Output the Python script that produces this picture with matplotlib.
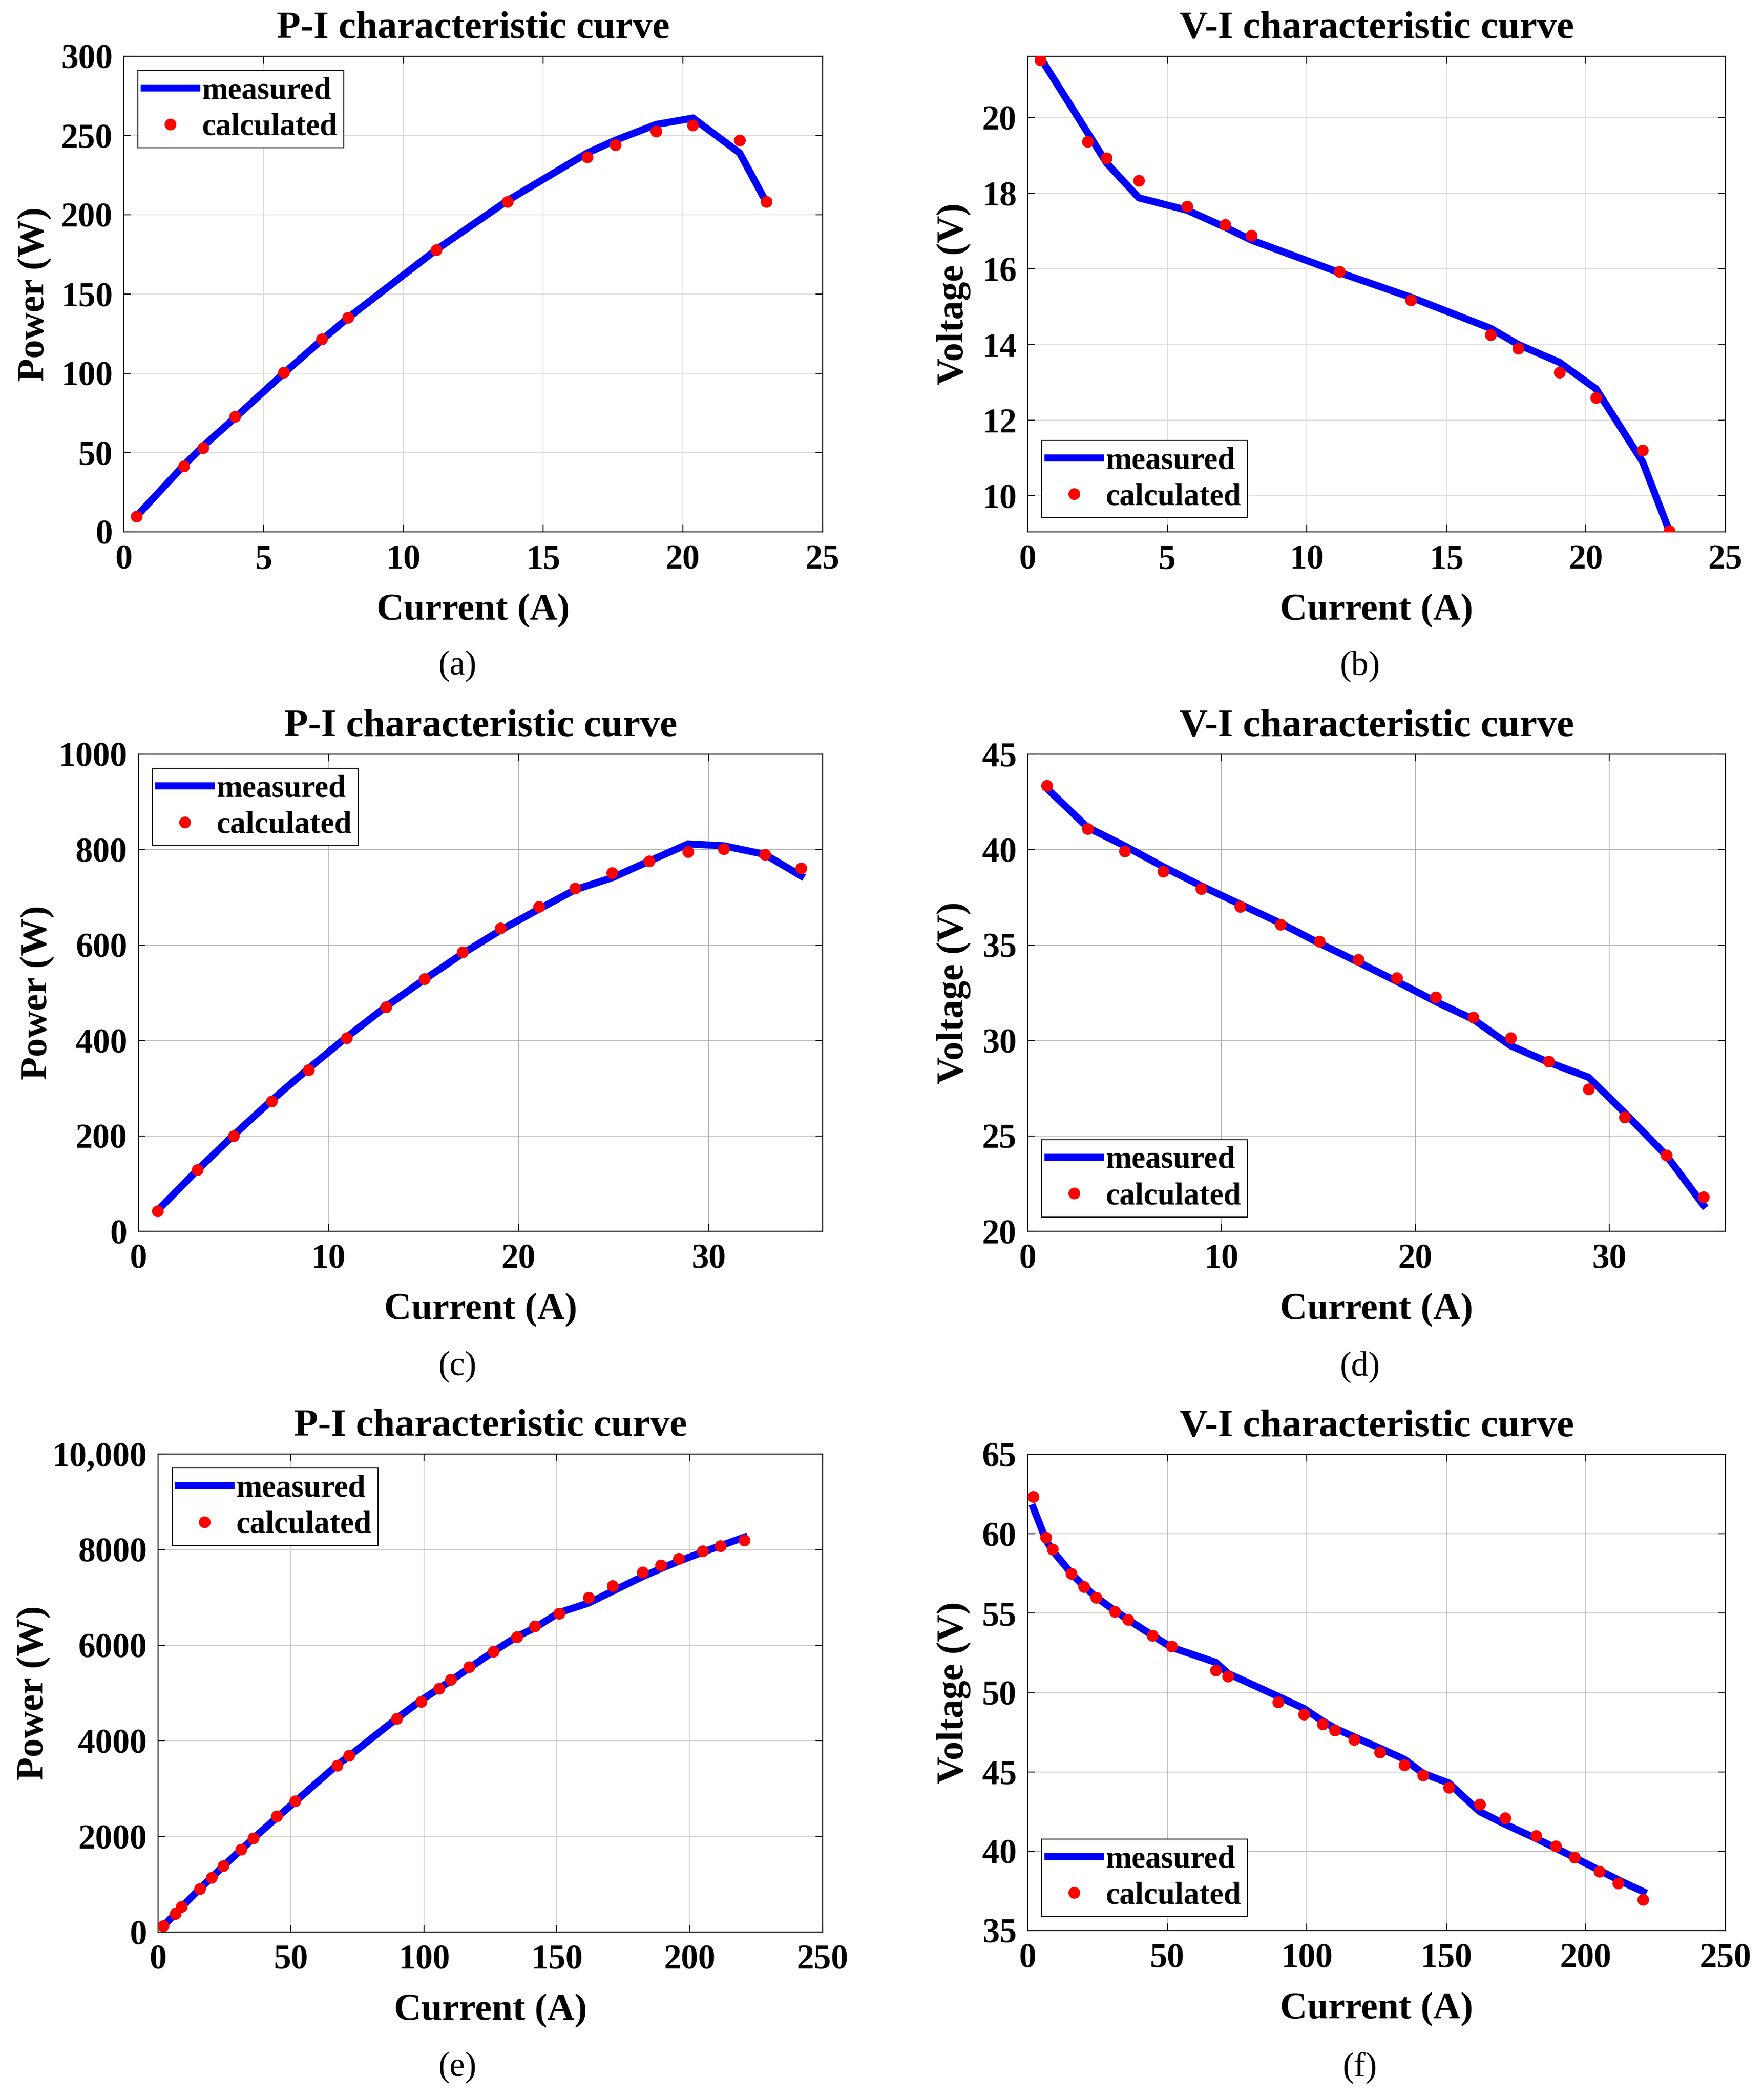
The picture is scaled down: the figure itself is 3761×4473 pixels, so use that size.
import matplotlib
matplotlib.use("Agg")
import matplotlib.pyplot as plt

# ---- data ----
# stack 1 (a, b)
current_1 = [0.46, 2.15, 2.83, 3.98, 5.72, 7.08, 8.02, 11.18, 13.73, 16.58, 17.58, 19.05, 20.36, 22.03, 22.98]
power_meas_1 = [10, 42, 54, 72, 100, 121, 135, 178, 209, 239, 247, 257, 261, 239, 208]
power_calc_1 = [9.8, 41.3, 53.1, 72.9, 100.6, 121.5, 135.2, 177.9, 208.4, 236.3, 244.1, 252.8, 256.4, 246.9, 208.4]
volt_meas_1 = [21.58, 19.6, 18.8, 17.88, 17.55, 17.1, 16.76, 15.9, 15.25, 14.43, 14.0, 13.53, 12.83, 10.9, 9.08]
volt_calc_1 = [21.52, 19.37, 18.93, 18.34, 17.65, 17.17, 16.88, 15.93, 15.18, 14.26, 13.90, 13.27, 12.59, 11.21, 9.08]

# stack 2 (c, d)
current_2 = [1.0, 3.1, 5.0, 7.0, 8.95, 10.96, 13.03, 15.05, 17.06, 19.05, 21.06, 22.98, 24.92, 26.88, 28.93, 30.8, 32.96, 34.86]
power_meas_2 = [43, 128, 201, 274, 341, 407, 471, 528, 582, 631, 675, 716, 741, 776, 812, 808, 790, 745]
power_calc_2 = [42, 129, 200, 272, 338, 405, 470, 529, 585, 635, 680, 719, 751, 776, 795, 801, 790, 761]
volt_meas_2 = [43.2, 41.16, 40.2, 39.1, 38.1, 37.14, 36.15, 35.09, 34.1, 33.09, 32.03, 31.11, 29.72, 28.85, 28.07, 26.2, 23.95, 21.37]
volt_calc_2 = [43.35, 41.09, 39.92, 38.86, 37.94, 37.0, 36.08, 35.18, 34.24, 33.28, 32.26, 31.21, 30.12, 28.90, 27.44, 25.98, 23.98, 21.79]

# stack 3 (e, f)
current_3 = [2.0, 6.6, 8.9, 15.7, 20.2, 24.6, 31.3, 35.9, 44.7, 51.5, 67.4, 71.8, 89.8, 98.9, 105.7, 110.1, 117.0,
             126.1, 134.9, 141.7, 150.8, 161.9, 171.0, 182.2, 189.1, 195.9, 204.8, 211.5, 220.5]
power_meas_3 = [123, 393, 525, 903, 1145, 1378, 1726, 1960, 2396, 2722, 3498, 3676, 4468, 4846, 5095, 5257, 5522,
                5864, 6178, 6362, 6680, 6881, 7131, 7434, 7602, 7758, 7946, 8079, 8258]
power_calc_3 = [131, 385, 526, 900, 1136, 1380, 1728, 1962, 2422, 2742, 3484, 3690, 4470, 4817, 5089, 5277, 5540,
                5869, 6169, 6394, 6667, 6995, 7239, 7530, 7671, 7812, 7972, 8075, 8197]
volt_meas_3 = [61.65, 59.6, 58.95, 57.5, 56.7, 56.0, 55.15, 54.6, 53.6, 52.85, 51.9, 51.2, 49.75, 49.0, 48.2, 47.75,
               47.2, 46.5, 45.8, 44.9, 44.3, 42.5, 41.7, 40.8, 40.2, 39.6, 38.8, 38.2, 37.45]
volt_calc_3 = [62.35, 59.77, 59.03, 57.49, 56.67, 55.99, 55.09, 54.59, 53.6, 52.9, 51.41, 51.01, 49.38, 48.62, 48.0,
               47.61, 47.02, 46.23, 45.44, 44.79, 44.0, 42.96, 42.09, 40.96, 40.32, 39.61, 38.71, 37.98, 36.94]

# ---- figure ----
W, H = 3762, 4473
DPI = 100
fig = plt.figure(figsize=(W / DPI, H / DPI), dpi=DPI)
plt.rcParams["font.family"] = ["Liberation Serif", "DejaVu Serif"]

BOLD = dict(family=["Liberation Serif", "DejaVu Serif"], weight="bold")


def px_axes(l, t, r, b):
    return fig.add_axes([l / W, 1 - b / H, (r - l) / W, (b - t) / H])


def panel(rect, x, meas, calc, title, ylabel, xlim, ylim, xticks, yticks, ytlabels,
          legend_loc, ylab_x, cap_x, cap_y, cap, grid_color):
    ax = px_axes(*rect)
    ax.set_axisbelow(True)
    ax.grid(True, color=grid_color, lw=1.1)
    ax.plot(x, meas, color="#0000ff", lw=11, solid_joinstyle="miter", label="measured", zorder=3)
    ax.plot(x, calc, ls="none", marker="o", ms=17, mfc="#ff0000", mec="#ff0000", label="calculated", zorder=4)
    ax.set_xlim(*xlim)
    ax.set_ylim(*ylim)
    ax.set_xticks(xticks)
    ax.set_yticks(yticks)
    if ytlabels is not None:
        ax.set_yticklabels(ytlabels)
    for lab in ax.get_xticklabels() + ax.get_yticklabels():
        lab.set_fontsize(53)
        lab.set_fontweight("bold")
    ax.tick_params(axis="both", direction="in", length=11, width=1.5, top=True, right=True)
    ax.tick_params(axis="x", pad=19)
    ax.tick_params(axis="y", pad=17)
    for s in ax.spines.values():
        s.set_linewidth(1.6)

    l, t, r, b = rect
    cx = (l + r) / 2
    fig.text(cx / W, 1 - (t - 59) / H, title, ha="center", va="center", fontsize=60, **BOLD)
    fig.text(cx / W, 1 - (b + 168) / H, "Current (A)", ha="center", va="center", fontsize=58, **BOLD)
    fig.text(ylab_x / W, 1 - ((t + b) / 2) / H, ylabel, ha="center", va="center", rotation=90,
             fontsize=58, **BOLD)
    fig.text(cap_x / W, 1 - cap_y / H, cap, ha="center", va="center", fontsize=53,
             family=["Liberation Serif", "DejaVu Serif"])

    leg = ax.legend(loc=legend_loc, prop=dict(family=["Liberation Serif"], weight="bold", size=48),
                    frameon=True, fancybox=False, framealpha=1, edgecolor="black", numpoints=1,
                    borderaxespad=0.45, handlelength=1.67, handletextpad=0.18, labelspacing=0.25,
                    borderpad=0.2)
    leg.get_frame().set_linewidth(1.5)
    return ax


panel((264, 120, 1754, 1134), current_1, power_meas_1, power_calc_1, "P-I characteristic curve", "Power (W)",
      (0, 25), (0, 300), range(0, 26, 5), range(0, 301, 50), None, "upper left", 74, 976, 1420, "(a)", "#d6d6d6")
panel((2191, 120, 3679, 1134), current_1, volt_meas_1, volt_calc_1, "V-I characteristic curve", "Voltage (V)",
      (0, 25), (9.05, 21.62), range(0, 26, 5), range(10, 21, 2), None, "lower left", 2033, 2900, 1420, "(b)",
      "#d6d6d6")
panel((295, 1608, 1754, 2625), current_2, power_meas_2, power_calc_2, "P-I characteristic curve", "Power (W)",
      (0, 36), (0, 1000), range(0, 31, 10), range(0, 1001, 200), None, "upper left", 80, 976, 2914, "(c)",
      "#a8a8a8")
panel((2191, 1608, 3679, 2625), current_2, volt_meas_2, volt_calc_2, "V-I characteristic curve", "Voltage (V)",
      (0, 36), (20, 45), range(0, 31, 10), range(20, 46, 5), None, "lower left", 2033, 2900, 2914, "(d)",
      "#a8a8a8")
panel((337, 3100, 1754, 4119), current_3, power_meas_3, power_calc_3, "P-I characteristic curve", "Power (W)",
      (0, 250), (0, 10000), range(0, 251, 50), range(0, 10001, 2000),
      ["0", "2000", "4000", "6000", "8000", "10,000"], "upper left", 72, 976, 4408, "(e)", "#c4c4c4")
panel((2191, 3101, 3679, 4116), current_3, volt_meas_3, volt_calc_3, "V-I characteristic curve", "Voltage (V)",
      (0, 250), (35, 65), range(0, 251, 50), range(35, 66, 5), None, "lower left", 2033, 2900, 4408, "(f)",
      "#b4b4b4")

fig.savefig("out.png", dpi=DPI, facecolor="white")
